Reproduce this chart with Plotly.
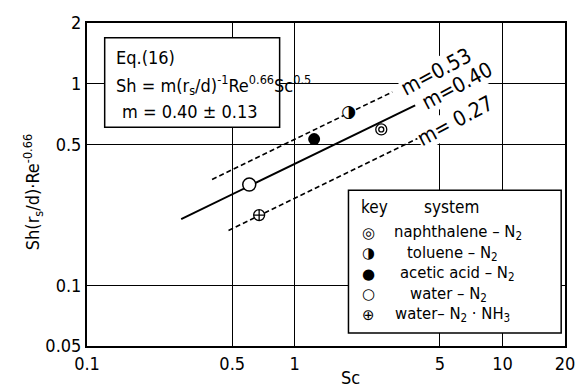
import plotly.graph_objects as go

# ---- data ----
systems = ["naphthalene", "toluene", "acetic acid", "water", "water-NH3"]
sc_vals = [2.61, 1.82, 1.24, 0.604, 0.674]
y_vals = [0.593, 0.718, 0.531, 0.316, 0.223]

line_labels = ["m=0.53", "m=0.40", "m= 0.27"]
line_sc = [[0.40, 2.95], [0.284, 3.8], [0.48, 3.9]]
line_y = [[0.335, 0.91], [0.213, 0.78], [0.187, 0.535]]

x_ticks = [0.1, 0.5, 1, 5, 10, 20]
x_ticktext = ["0.1", "0.5", "1", "5", "10", "20"]
y_ticks = [0.05, 0.1, 0.5, 1, 2]
y_ticktext = ["0.05", "0.1", "0.5", "1", "2"]

legend_rows = [
    ("◎", "naphthalene – N<sub>2</sub>"),
    ("◑", "toluene – N<sub>2</sub>"),
    ("●", "acetic acid – N<sub>2</sub>"),
    ("○", "water – N<sub>2</sub>"),
    ("⊕", "water– N<sub>2</sub> · NH<sub>3</sub>"),
]

FONT = "Liberation Sans Narrow, DejaVu Sans Condensed, Liberation Sans, sans-serif"
SYMFONT = "DejaVu Sans"

fig = go.Figure()

# correlation lines
for lab, xs, ys in zip(line_labels, line_sc, line_y):
    solid = lab == "m=0.40"
    fig.add_trace(go.Scatter(
        x=xs, y=ys, mode="lines",
        line=dict(color="black", width=2 if solid else 1.6,
                  dash="solid" if solid else "5px,3px"),
        showlegend=False, hoverinfo="skip"))

# naphthalene: double circle
fig.add_trace(go.Scatter(x=[sc_vals[0]], y=[y_vals[0]], mode="markers",
                         marker=dict(symbol="circle", size=11, color="white",
                                     line=dict(color="black", width=1.3)),
                         showlegend=False))
fig.add_trace(go.Scatter(x=[sc_vals[0]], y=[y_vals[0]], mode="markers",
                         marker=dict(symbol="circle-open", size=5, color="black",
                                     line=dict(color="black", width=1.3)),
                         showlegend=False))
# toluene: half-filled circle (white disc + glyph)
fig.add_trace(go.Scatter(x=[sc_vals[1]], y=[y_vals[1]], mode="markers",
                         marker=dict(symbol="circle", size=11, color="white",
                                     line=dict(width=0)),
                         showlegend=False))
fig.add_trace(go.Scatter(x=[sc_vals[1]], y=[y_vals[1]], mode="text", text=["◑"],
                         textposition="middle center",
                         textfont=dict(family=SYMFONT, size=17, color="black"),
                         showlegend=False))
# acetic acid: filled circle
fig.add_trace(go.Scatter(x=[sc_vals[2]], y=[y_vals[2]], mode="markers",
                         marker=dict(symbol="circle", size=12, color="black"),
                         showlegend=False))
# water: open circle
fig.add_trace(go.Scatter(x=[sc_vals[3]], y=[y_vals[3]], mode="markers",
                         marker=dict(symbol="circle", size=13, color="white",
                                     line=dict(color="black", width=1.5)),
                         showlegend=False))
# water-NH3: crossed circle
fig.add_trace(go.Scatter(x=[sc_vals[4]], y=[y_vals[4]], mode="markers",
                         marker=dict(symbol="circle-cross", size=11, color="white",
                                     line=dict(color="black", width=1.3)),
                         showlegend=False))


def ann(x, y, text, size=18, xa="center", ya="middle", angle=0, family=FONT, bg=None):
    d = dict(x=x, y=y, xref="paper", yref="paper", xanchor=xa, yanchor=ya,
             text=text, showarrow=False, textangle=angle,
             font=dict(family=family, size=size, color="black"))
    if bg:
        d["bgcolor"] = bg
        d["borderpad"] = 0
    return d


annotations = []
# line labels
for lab, (px, py) in zip(line_labels, [(0.730, 0.848), (0.774, 0.805), (0.770, 0.698)]):
    annotations.append(ann(px, py, lab, size=21, angle=-28, bg="white"))

# equation box text
annotations += [
    ann(0.057, 0.893, "Eq.(16)", xa="left"),
    ann(0.057, 0.808, "Sh = m(r<sub>s</sub>/d)<sup>-1</sup>Re<sup>0.66</sup>Sc<sup>0.5</sup>", xa="left"),
    ann(0.216, 0.725, "m = 0.40 ± 0.13"),
]

# legend
annotations += [
    ann(0.569, 0.430, "key", size=17, xa="left"),
    ann(0.700, 0.430, "system", size=17, xa="left"),
]
text_x = [0.638, 0.665, 0.650, 0.671, 0.640]
for i, (sym, txt) in enumerate(legend_rows):
    yy = 0.351 - i * 0.0635
    annotations.append(ann(0.589, yy, sym, size=15, family=SYMFONT))
    annotations.append(ann(text_x[i], yy, txt, size=16.5, xa="left"))

# axis titles
annotations += [
    ann(0.551, -0.098, "Sc"),
    ann(-0.113, 0.476, "Sh(r<sub>s</sub>/d)·Re<sup>-0.66</sup>", angle=-90),
]

shapes = [
    dict(type="rect", xref="paper", yref="paper", x0=0.037, x1=0.403, y0=0.677, y1=0.954,
         line=dict(color="black", width=1.5), fillcolor="white", layer="above"),
    dict(type="rect", xref="paper", yref="paper", x0=0.547, x1=0.992, y0=0.040, y1=0.482,
         line=dict(color="black", width=1.5), fillcolor="white", layer="above"),
]

fig.update_layout(
    width=587, height=387,
    margin=dict(l=87, r=14, t=18, b=41),
    paper_bgcolor="white", plot_bgcolor="white",
    font=dict(family=FONT, size=18, color="black"),
    showlegend=False,
    annotations=annotations,
    shapes=shapes,
    xaxis=dict(type="log", range=[-1, 1.30103], tickvals=x_ticks, ticktext=x_ticktext,
               showgrid=True, gridcolor="black", gridwidth=1,
               showline=True, linecolor="black", linewidth=2, mirror=True,
               ticks="", zeroline=False, tickfont=dict(size=18)),
    yaxis=dict(type="log", range=[-1.30103, 0.30103], tickvals=y_ticks, ticktext=y_ticktext,
               showgrid=True, gridcolor="black", gridwidth=1,
               showline=True, linecolor="black", linewidth=2, mirror=True,
               ticks="", zeroline=False, tickfont=dict(size=18)),
)

fig.write_html("out.html")
